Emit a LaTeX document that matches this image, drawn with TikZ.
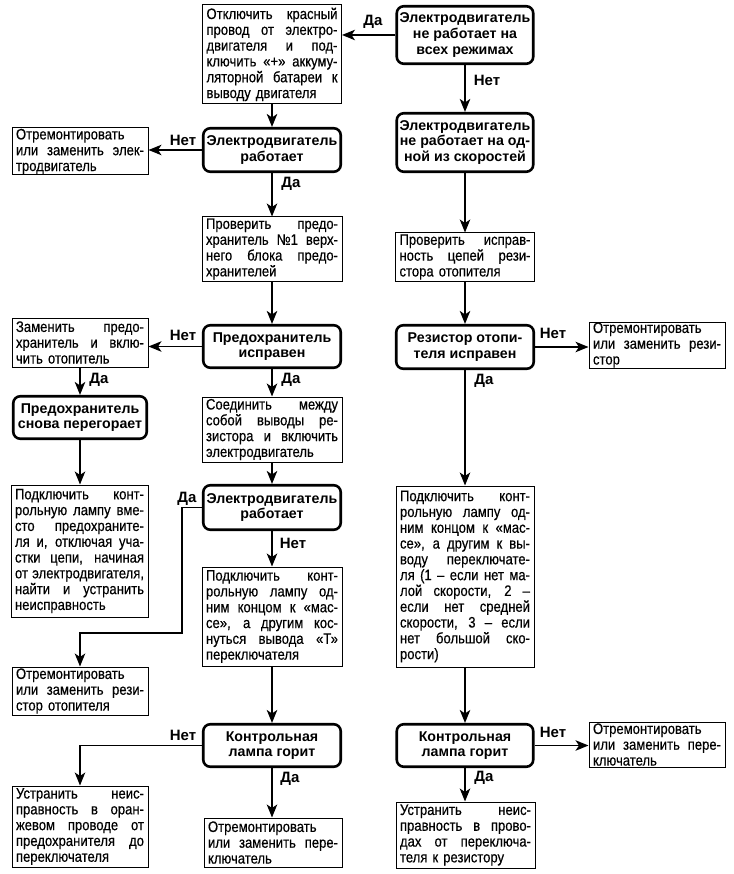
\documentclass[tikz,border=0pt]{standalone}
\usepackage{fontspec}
\setmainfont{Liberation Sans}
\newfontfamily\narrowfont{Liberation Sans}[FakeStretch=0.86,FakeBold=0.4]
\usetikzlibrary{arrows.meta}
\newcommand\J[1]{\leavevmode\hbox to\hsize{\spaceskip=\fontdimen2\font plus 1fil minus 0.4\fontdimen2\font\relax #1}}
\begin{document}
\begin{tikzpicture}[x=1pt,y=-1pt,
  rbox/.style={draw, line width=1pt, text width=#1, inner xsep=4pt, inner ysep=0pt, align=left,
    font=\narrowfont\fontsize{15.2}{15.8}\selectfont},
  dbox/.style={draw, line width=2.6pt, rounded corners=7pt, align=center, inner xsep=0pt, inner ysep=0pt, font=\bfseries\fontsize{14.2}{15.8}\selectfont},
  arr/.style={line width=1.3pt, -{Stealth[length=13pt,width=10.5pt,inset=3.5pt]}},
  lbl/.style={font=\bfseries\fontsize{15}{15}\selectfont, inner sep=0pt}
]
\useasboundingbox (0,0) rectangle (733,874);

% decision boxes
\node[dbox, minimum width=136.5, minimum height=57.5] (T) at (465,35) {Электродвигатель\\не работает на\\всех режимах};
\node[dbox, minimum width=136.5, minimum height=58.5] (T2) at (465,142.5) {Электродвигатель\\не работает на од-\\ной из скоростей};
\node[dbox, minimum width=137.5, minimum height=43.5] (D1) at (272,150) {Электродвигатель\\работает};
\node[dbox, minimum width=137.5, minimum height=42.5] (C2) at (272,346.5) {Предохранитель\\исправен};
\node[dbox, minimum width=137.5, minimum height=43.5] (R2) at (465,347) {Резистор отопи-\\теля исправен};
\node[dbox, minimum width=133.5, minimum height=42.5] (L3) at (80,417.5) {Предохранитель\\снова перегорает};
\node[dbox, minimum width=137.5, minimum height=44.5] (C4) at (272,507.5) {Электродвигатель\\работает};
\node[dbox, minimum width=137.5, minimum height=42.5] (C6) at (272,745.5) {Контрольная\\лампа горит};
\node[dbox, minimum width=136.5, minimum height=42.5] (R4) at (465,745.5) {Контрольная\\лампа горит};

% action boxes
\node[rbox=131, minimum height=99] (A) at (272,54.5) {\J{Отключить красный}\\\J{провод от электро-}\\\J{двигателя и под-}\\\J{ключить «+» аккуму-}\\\J{ляторной батареи к}\\выводу двигателя};
\node[rbox=128, minimum height=47] (L1) at (80,151.5) {\J{Отремонтировать}\\\J{или заменить элек-}\\тродвигатель};
\node[rbox=132, minimum height=64] (C1) at (272,249) {\J{Проверить предо-}\\\J{хранитель №1 верх-}\\\J{него блока предо-}\\хранителей};
\node[rbox=131, minimum height=48] (R1) at (465,257) {\J{Проверить исправ-}\\\J{ность цепей рези-}\\стора отопителя};
\node[rbox=128, minimum height=49] (L2) at (80,342.5) {\J{Заменить предо-}\\\J{хранитель и вклю-}\\чить отопитель};
\node[rbox=128, minimum height=46] (RR1) at (657,345) {\J{Отремонтировать}\\\J{или заменить рези-}\\стор};
\node[rbox=132, minimum height=65] (C3) at (272,429.5) {\J{Соединить между}\\\J{собой выводы ре-}\\\J{зистора и включить}\\электродвигатель};
\node[rbox=129, minimum height=132] (L4) at (79.5,551) {\J{Подключить конт-}\\\J{рольную лампу вме-}\\\J{сто предохраните-}\\\J{ля и, отключая уча-}\\\J{стки цепи, начиная}\\\J{от электродвигателя,}\\\J{найти и устранить}\\неисправность};
\node[rbox=130, minimum height=181] (R3) at (465,576.5) {\J{Подключить конт-}\\\J{рольную лампу од-}\\\J{ним концом к «мас-}\\\J{се», а другим к вы-}\\\J{воду переключате-}\\\J{ля (1 – если нет ма-}\\\J{лой скорости, 2 –}\\\J{если нет средней}\\\J{скорости, 3 – если}\\\J{нет большой ско-}\\рости)};
\node[rbox=132, minimum height=99] (C5) at (272,616.5) {\J{Подключить конт-}\\\J{рольную лампу од-}\\\J{ним концом к «мас-}\\\J{се», а другим кос-}\\\J{нуться вывода «Т»}\\переключателя};
\node[rbox=128, minimum height=48] (L5) at (80,691) {\J{Отремонтировать}\\\J{или заменить рези-}\\стор отопителя};
\node[rbox=128, minimum height=45] (RR2) at (657,744.5) {\J{Отремонтировать}\\\J{или заменить пере-}\\ключатель};
\node[rbox=128, minimum height=81] (L6) at (80,826.5) {\J{Устранить неис-}\\\J{правность в оран-}\\\J{жевом проводе от}\\\J{предохранителя до}\\переключателя};
\node[rbox=130, minimum height=49] (C7) at (273,842.5) {\J{Отремонтировать}\\\J{или заменить пере-}\\ключатель};
\node[rbox=131, minimum height=66] (R5) at (465.5,835) {\J{Устранить неис-}\\\J{правность в прово-}\\\J{дах от переключа-}\\теля к резистору};

% bend points
\coordinate (k1) at (182,633);

% connectors
\draw[arr] (T.west) -- (T.west -| A.east);
\draw[arr] (T.south) -- (T.south |- T2.north);
\draw[arr] (A.south) -- (A.south |- D1.north);
\draw[arr] (D1.west) -- (D1.west -| L1.east);
\draw[arr] (D1.south) -- (D1.south |- C1.north);
\draw[arr] (C1.south) -- (C1.south |- C2.north);
\draw[arr] (T2.south) -- (T2.south |- R1.north);
\draw[arr] (R1.south) -- (R1.south |- R2.north);
\draw[arr] (R2.east) -- (R2.east -| RR1.west);
\draw[arr] (R2.south) -- (R2.south |- R3.north);
\draw[arr] (R3.south) -- (R3.south |- R4.north);
\draw[arr] (R4.east) -- (R4.east -| RR2.west);
\draw[arr] (R4.south) -- (R4.south |- R5.north);
\draw[arr] (C2.west) -- (C2.west -| L2.east);
\draw[arr] (C2.south) -- (C2.south |- C3.north);
\draw[arr] (L2.south) -- (L2.south |- L3.north);
\draw[arr] (L3.south) -- (L3.south |- L4.north);
\draw[arr] (C3.south) -- (C3.south |- C4.north);
\draw[arr] (C4.west) -| (k1) -| (L5.north);
\draw[arr] (C4.south) -- (C4.south |- C5.north);
\draw[arr] (C5.south) -- (C5.south |- C6.north);
\draw[arr] (C6.west) -| (L6.north);
\draw[arr] (C6.south) -- (C6.south |- C7.north);

% labels
\node[lbl] (la) at (373,22) {Да};
\node[lbl] (lb) at (487,80) {Нет};
\node[lbl] (lc) at (183,140) {Нет};
\node[lbl] (ld) at (291,184) {Да};
\node[lbl] (le) at (553,333) {Нет};
\node[lbl] (lf) at (484,381) {Да};
\node[lbl] (lg) at (553,732) {Нет};
\node[lbl] (lh) at (484,778) {Да};
\node[lbl] (li) at (183,335) {Нет};
\node[lbl] (lj) at (291,380) {Да};
\node[lbl] (lk) at (99,380) {Да};
\node[lbl] (ll) at (187,499) {Да};
\node[lbl] (lm) at (293,543) {Нет};
\node[lbl] (ln) at (183,735) {Нет};
\node[lbl] (lo) at (290,779) {Да};
\end{tikzpicture}
\end{document}
